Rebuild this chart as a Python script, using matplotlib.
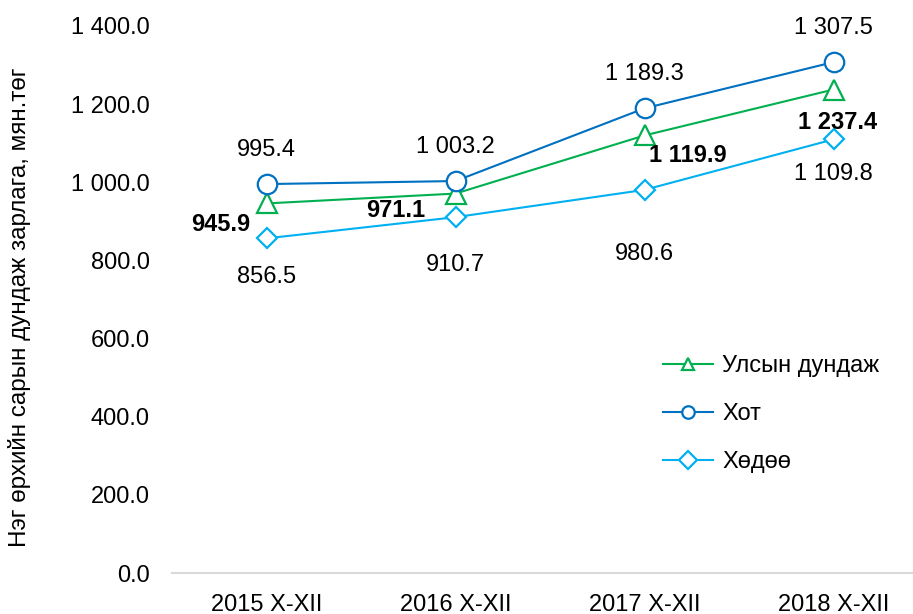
import matplotlib
matplotlib.use("Agg")
import matplotlib.pyplot as plt

plt.rcParams['font.family'] = ['Liberation Sans', 'DejaVu Sans']

categories = ["2015 X-XII", "2016 X-XII", "2017 X-XII", "2018 X-XII"]
national = [945.9, 971.1, 1119.9, 1237.4]
urban = [995.4, 1003.2, 1189.3, 1307.5]
rural = [856.5, 910.7, 980.6, 1109.8]
yticks = [0, 200, 400, 600, 800, 1000, 1200, 1400]

def fmt(v):
    s = f"{v:,.1f}"
    return s.replace(",", " ")

fig = plt.figure(figsize=(9.13, 6.14), dpi=100)
ax = fig.add_axes([172/913, 1-573/614, (928-172)/913, (573-26)/614])
x = list(range(len(categories)))

c_nat = "#00B050"
c_urb = "#0070C0"
c_rur = "#00B0F0"
ms = 14
ax.plot(x, national, color=c_nat, lw=1.5, marker="^", ms=ms, mfc="white", mec=c_nat, mew=1.6, label="Улсын дундаж", zorder=3)
ax.plot(x, urban, color=c_urb, lw=1.5, marker="o", ms=ms, mfc="white", mec=c_urb, mew=1.6, label="Хот", zorder=3)
ax.plot(x, rural, color=c_rur, lw=1.5, marker="D", ms=ms*0.75, mfc="white", mec=c_rur, mew=1.6, label="Хөдөө", zorder=3)

fs = 17
# urban labels above
for xi, v in zip(x, urban):
    ax.annotate(fmt(v), (xi, v), xytext=(0, 34), textcoords="offset pixels", ha="center", va="center", fontsize=fs)
# rural labels below
rural_off = [(0, -39), (0, -48), (0, -64), (0, -35)]
for xi, v, o in zip(x, rural, rural_off):
    ax.annotate(fmt(v), (xi, v), xytext=o, textcoords="offset pixels", ha="center", va="center", fontsize=fs)
# national labels bold
nat_off = [(-46, -21), (-60, -17), (43, -20), (4, -33)]
for xi, v, o in zip(x, national, nat_off):
    ax.annotate(fmt(v), (xi, v), xytext=o, textcoords="offset pixels", ha="center", va="center", fontsize=fs, fontweight="bold")

ax.set_xlim(-0.5, 3.5)
ax.set_ylim(0, 1400)
ax.set_yticks(yticks)
ax.set_yticklabels([fmt(t) for t in yticks], fontsize=fs)
ax.set_xticks(x)
ax.set_xticklabels(categories, fontsize=fs)
ax.tick_params(axis="y", length=0, pad=16)
ax.tick_params(axis="x", length=0, pad=15)
for s in ["top", "right", "left"]:
    ax.spines[s].set_visible(False)
ax.spines["bottom"].set_color("#D9D9D9")
ax.spines["bottom"].set_linewidth(1.5)

fig.text(20/913, 1-307/614, "Нэг өрхийн сарын дундаж зарлага, мян.төг", rotation=90, ha="center", va="center", fontsize=17.5)

leg = ax.legend(loc="upper left", bbox_to_anchor=((654-172)/756, 1 - (346-26)/547), frameon=False, fontsize=fs,
                handlelength=2.1, labelspacing=1.1, handletextpad=0.4, borderaxespad=0)
for h in leg.legend_handles:
    h.set_markersize(9)

fig.savefig("out.png", dpi=100)
